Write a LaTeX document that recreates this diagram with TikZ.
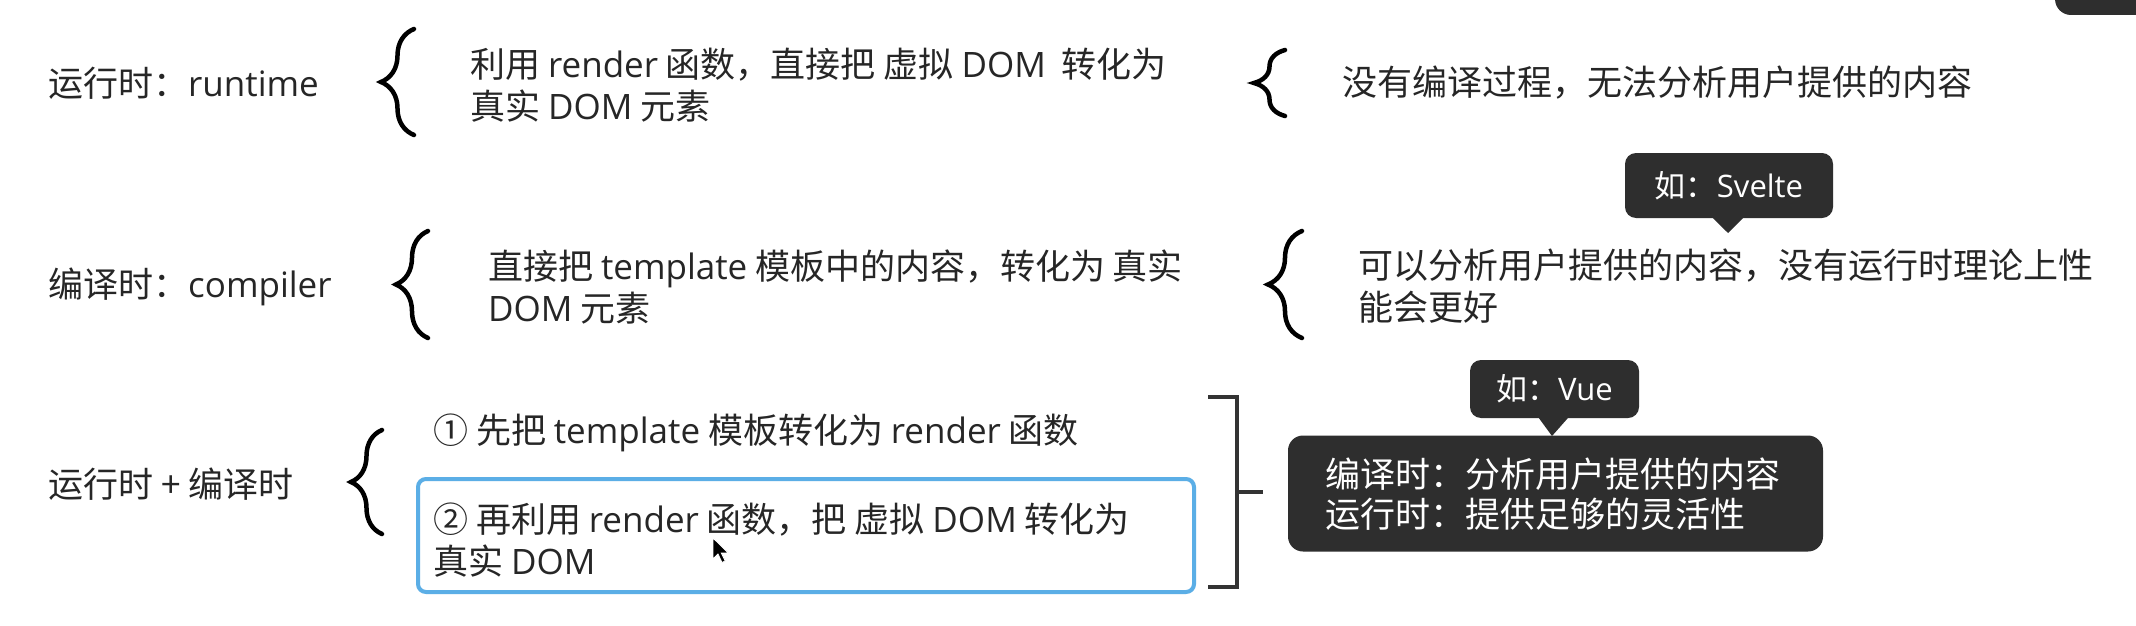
\documentclass[tikz,border=0pt]{standalone}
\usepackage{fontspec}
\setmainfont{Noto Sans CJK SC}
\newfontfamily\latfont{Open Sans}
\newcommand{\latn}[1]{{\latfont #1}}
\usetikzlibrary{decorations.pathreplacing,calc}
\definecolor{txt}{HTML}{262626}
\definecolor{tipbg}{HTML}{2E2E2E}
\definecolor{selblue}{HTML}{5BAEE6}
\definecolor{brk}{HTML}{333333}
\begin{document}
\begin{tikzpicture}[x=1pt,y=-1pt,
  lbl/.style={anchor=west, inner sep=0pt, text=txt, align=left,
    font=\fontsize{35}{42}\selectfont},
  brc/.style={draw=black, line width=4.5pt, line cap=round,
    decorate, decoration={brace, amplitude=#1}},
  tipbox/.style={fill=tipbg, rounded corners=11pt, text=white, inner sep=0pt,
    font=\fontsize{31}{38}\selectfont},
  darkbox/.style={fill=tipbg, rounded corners=15pt, inner sep=0pt},
  whitetext/.style={anchor=west, inner sep=0pt, text=white, align=left,
    font=\fontsize{35}{40}\selectfont},
  bracketline/.style={draw=brk, line width=4pt}
]
\useasboundingbox (0,0) rectangle (2136,626);
\fill[white] (0,0) rectangle (2136,626);

% top-right partial dark shape
\begin{scope}
  \clip (0,0) rectangle (2136,626);
  \fill[tipbg, rounded corners=16pt] (2055,-40) rectangle (2200,15);
\end{scope}

% ---------- Row 1 ----------
\node[lbl] (rt) at (48,83) {运行时：\latn{runtime}};
\node[lbl] (rtd) at (470,85) {利用 \latn{render} 函数，直接把 虚拟 \latn{DOM}\ \ 转化为\\真实 \latn{DOM} 元素};
\node[lbl] (rtc) at (1342,83) {没有编译过程，无法分析用户提供的内容};
\coordinate (b1b) at (414,135); \coordinate (b1t) at (414,29);
\draw[brc=33pt] (b1b) -- (b1t);
\coordinate (b2b) at (1285,116); \coordinate (b2t) at (1285,50);
\draw[brc=31pt] (b2b) -- (b2t);

% ---------- Row 2 ----------
\node[lbl] (ct) at (48,287) {编译时：\latn{compiler}};
\node[lbl] (ctd) at (488,287) {直接把 \latn{template} 模板中的内容，转化为 真实\\\latn{DOM} 元素};
\node[lbl] (ctc) at (1358,286) {可以分析用户提供的内容，没有运行时理论上性\\能会更好};
\coordinate (b3b) at (428,338); \coordinate (b3t) at (428,231);
\draw[brc=32pt] (b3b) -- (b3t);
\coordinate (b4b) at (1302,338); \coordinate (b4t) at (1302,231);
\draw[brc=34pt] (b4b) -- (b4t);

% Svelte tooltip
\node[tipbox, minimum width=208pt, minimum height=65pt] (sv) at (1729,185.5) {如：\latn{Svelte}};
\coordinate (svtip) at (1728,233);
\fill[tipbg] ($(sv.south)+(-18,-2)$) -- (svtip) -- ($(sv.south)+(16,-2)$) -- cycle;

% ---------- Row 3 ----------
\node[lbl] (both) at (48,484) {运行时 + 编译时};
\coordinate (b5b) at (382,534); \coordinate (b5t) at (382,430);
\draw[brc=31pt] (b5b) -- (b5t);
\node[lbl] (s1) at (433,433) {① 先把 \latn{template} 模板转化为 \latn{render} 函数};
\node[draw=selblue, line width=4pt, rounded corners=8pt, minimum width=776pt,
  minimum height=113pt, anchor=north west, inner sep=0pt] (s2box) at (416,477) {};
\node[lbl] (s2) at (433,540) {② 再利用 \latn{render} 函数，把 虚拟 \latn{DOM} 转化为\\真实 \latn{DOM}};

% cursor
\coordinate (cur) at (713,538);
\fill[black, draw=white, line width=0.8pt]
  (cur) -- ++(0,21) -- ++(5,-5) -- ++(4,8.5) -- ++(3.2,-1.6) -- ++(-4,-8)
  -- ++(7,0) -- cycle;

% bracket
\coordinate (bkt) at (1208,397);
\coordinate (bkm) at (1237,492);
\coordinate (bkbot) at (1208,587);
\coordinate (bkend) at (1263,492);
\draw[bracketline] (bkt) -- (bkt -| bkm) -- (bkbot -| bkm) -- (bkbot);
\draw[bracketline] (bkm) -- (bkend);

% Vue tooltip
\node[tipbox, minimum width=169pt, minimum height=58pt] (vue) at (1554.5,389) {如：\latn{Vue}};
\coordinate (vuetip) at (1552,436);
\fill[tipbg] ($(vue.south)+(-17,-2)$) -- (vuetip) -- ($(vue.south)+(15,-2)$) -- cycle;

% dark summary box
\node[darkbox, minimum width=535pt, minimum height=116pt] (sum) at (1555.5,493.5) {};
\node[whitetext] (sumt) at (1325,494) {编译时：分析用户提供的内容\\运行时：提供足够的灵活性};
\end{tikzpicture}
\end{document}
